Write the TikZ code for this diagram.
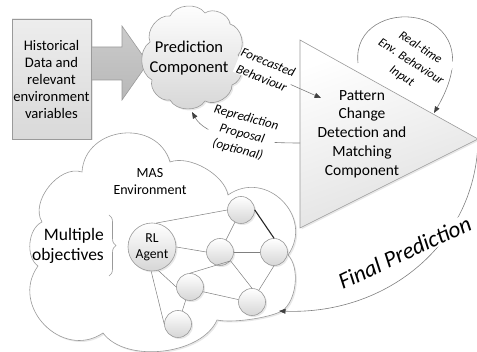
\documentclass[tikz,border=0pt]{standalone}
\usepackage{fontspec}
\setmainfont{Carlito}
\usetikzlibrary{arrows.meta,shadows,decorations.pathreplacing}
\definecolor{outl}{HTML}{9A9A9A}
\definecolor{edgeg}{HTML}{808080}
\definecolor{tipg}{HTML}{404040}
\definecolor{fillA}{HTML}{F2F2F2}
\definecolor{fillB}{HTML}{D6D6D6}
\definecolor{boxA}{HTML}{EDEDED}
\definecolor{boxB}{HTML}{D9D9D9}
\definecolor{arrF}{HTML}{CBCBCB}
\definecolor{arrG}{HTML}{B8B8B8}
\definecolor{triB}{HTML}{E0E0E0}
\begin{document}
\begin{tikzpicture}[x=1pt,y=-1pt,
  shad/.style={drop shadow={opacity=0.18,shadow xshift=1.5pt,shadow yshift=-1.5pt}},
  conn/.style={draw=edgeg,line width=0.6pt,-{Triangle[length=6.5pt,width=5pt,color=tipg]}},
  lobe/.style={bend left=60,looseness=0.95},
  lbl/.style={font=\fontsize{13}{17}\selectfont\itshape,fill=white,inner sep=0.6pt,align=center},
  lblrt/.style={font=\fontsize{12.5}{17}\selectfont\itshape,fill=white,inner sep=0.6pt,rotate=-33,align=center},
  circ/.style={circle,draw=outl,line width=0.6pt,top color=white,bottom color=fillB,minimum size=27pt,inner sep=0pt,shad},
  edgeln/.style={draw=edgeg,line width=0.5pt},
]
\useasboundingbox (0,0) rectangle (477,352);

% MAS environment cloud
\draw[draw=outl,line width=0.6pt,fill=white,shad]
  (103,333) to[bend left=80,looseness=1.35] (38,266)
  to[bend left=60,looseness=0.9] (42,222)
  to[bend left=70,looseness=0.95] (82,172)
  to[bend left=80,looseness=1.33] (170,162)
  to[bend left=50,looseness=0.8] (228,195)
  to[bend left=80,looseness=1.4] (288,255)
  to[bend left=50,looseness=0.8] (282,311)
  to[bend left=20,looseness=0.6] (217,320)
  to[bend left=60,looseness=0.85] cycle;

\node[font=\fontsize{14}{17}\selectfont,align=center] (mas) at (150,182) {MAS\\Environment};
\node[font=\fontsize{17.5}{20}\selectfont,align=right,anchor=east,inner sep=0pt] (mult) at (104,246) {Multiple\\objectives};
\draw[decorate,decoration={brace,amplitude=7pt},draw=outl,line width=0.6pt] (109,215) -- (109,276);

% network
\node[circ,minimum size=48pt,font=\fontsize{13.7}{16}\selectfont,align=center] (rl) at (152,247) {RL\\Agent};
\node[circ] (n1) at (241,210) {};
\node[circ] (n2) at (220,252) {};
\node[circ] (n3) at (274,252) {};
\node[circ] (n4) at (190,287) {};
\node[circ] (n5) at (252,302) {};
\node[circ] (n6) at (178,324) {};

\draw[edgeln] (rl.80) -- (n1.west);
\draw[edgeln] (rl.east) -- (n2.west);
\draw[edgeln] (rl.-75) -- (n4.west);
\draw[edgeln] (rl.-92) -- (n6.west);
\draw[edgeln] (n1) -- (n2);
\draw[draw=black!85,line width=1.1pt] (n1.east) -- (n3.north);
\draw[edgeln] (n2.east) -- (n3.west);
\draw[edgeln] (n2.-40) -- (n5.north);
\draw[edgeln] (n3.south) -- (n5.60);
\draw[edgeln] (n4.-20) -- (n5.170);
\draw[edgeln] (n4) -- (n6);
\draw[edgeln] (n4.north) -- (n2.-40);

% historical data box and big arrow
\node[draw=outl,line width=0.6pt,top color=boxA,bottom color=boxB,shad,minimum width=79pt,minimum height=120pt,inner sep=0pt,font=\fontsize{14.6}{17}\selectfont,align=center] (hist) at (51.5,79) {Historical\\Data and\\relevant\\environment\\variables};
\draw[draw=outl,line width=0.6pt,top color=arrF,bottom color=arrG]
  (91.5,47) -- (122,47) -- (122,26) -- (148,63) -- (122,100) -- (122,80) -- (91.5,80) -- cycle;

% prediction cloud
\draw[draw=outl,line width=0.6pt,top color=white,bottom color=fillB,shad]
  (152,80) to[lobe] (150,42) to[lobe] (170,16) to[lobe] (205,13) to[lobe] (230,24)
  to[lobe] (238,55) to[lobe] (232,85) to[lobe] (205,101) to[lobe] (170,100) to[lobe] cycle;
\node[font=\fontsize{16.5}{20}\selectfont,align=center,inner sep=0pt] (pred) at (189,58) {Prediction\\Component};

% triangle
\coordinate (t1) at (300,40);
\coordinate (t2) at (300,228);
\coordinate (t3) at (478,139);
\draw[draw=outl,line width=0.6pt,top color=white,bottom color=triB,shading angle=20,shad] (t1) -- (t3) -- (t2) -- cycle;
\node[font=\fontsize{15.5}{18.75}\selectfont,align=center] (pat) at (362,134) {Pattern\\Change\\Detection and\\Matching\\Component};

% forecasted behaviour
\coordinate (fcs) at (240,62);
\coordinate (fce) at (321,98);
\draw[conn] (fcs) -- (fce);
\node[lbl,rotate=-22] (fc) at (265,70) {Forecasted\\Behaviour};

% reprediction proposal
\coordinate (rps) at (300,143);
\coordinate (rpe) at (192,112);
\draw[conn] (rps) .. controls (240,143) and (205,135) .. (rpe);
\node[lbl,rotate=-15,font=\fontsize{13}{16.5}\selectfont\itshape] (rp) at (242,134) {Reprediction\\Proposal\\(optional)};

% real-time input
\coordinate (rts) at (358,63);
\coordinate (rte) at (434,113);
\draw[conn] (rts) .. controls (350,-8) and (500,0) .. (rte);
\node[lblrt] (rt) at (411,62) {Real-time\\Env. Behaviour\\Input};

% final prediction
\coordinate (fpe) at (279,311);
\draw[conn] (t3) .. controls (477,240) and (390,315) .. (fpe);
\node[font=\fontsize{23}{27}\selectfont\itshape,rotate=25,anchor=base,fill=white,inner sep=1pt] (fp) at (408,259.5) {Final Prediction};
\end{tikzpicture}
\end{document}
